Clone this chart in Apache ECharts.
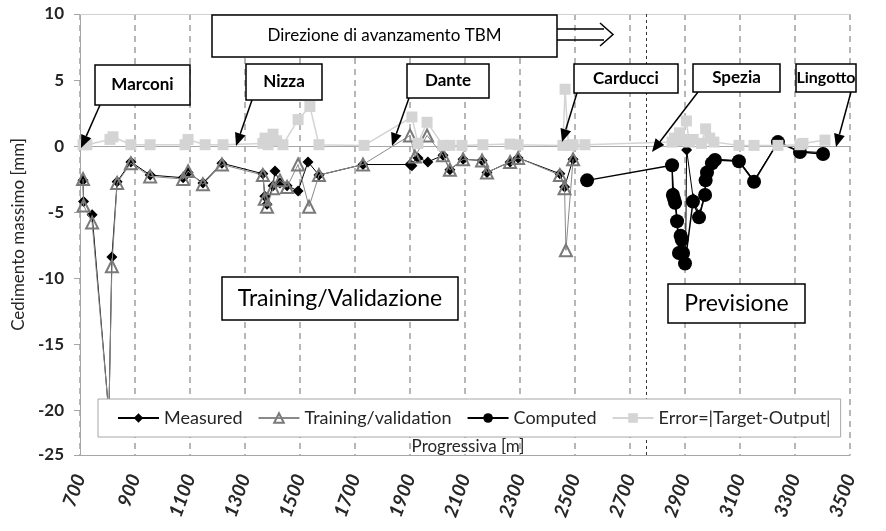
<!DOCTYPE html>
<html><head><meta charset="utf-8">
<script src="https://cdn.jsdelivr.net/npm/echarts@6/dist/echarts.min.js"></script>
<style>html,body{margin:0;padding:0;background:#fff}#c{width:886px;height:531px}</style>
</head><body><div id="c"></div>
<script>
// ---- data ----
const xMin = 700, xMax = 3500, xStep = 200;
const yMin = -25, yMax = 10, yStep = 5;
const yTicks = [-25, -20, -15, -10, -5, 0, 5, 10];

const measured = [[711,-2.6],[713,-4.2],[744,-5.2],[805,-20.3],[816,-8.4],[835,-2.7],[885,-1.2],[955,-2.2],[1075,-2.4],[1093,-2.0],[1147,-2.8],[1216,-1.3],
 [1365,-2.1],[1372,-3.8],[1380,-4.4],[1402,-3.0],[1409,-1.9],[1427,-2.8],[1453,-3.0],[1493,-3.4],[1529,-1.2],[1569,-2.2],[1729,-1.4],
 [1900,-1.4],[1907,-1.5],[1929,-0.9],[1965,-1.2],[2020,-0.7],[2045,-1.8],[2093,-1.0],[2162,-1.1],[2180,-2.0],[2264,-1.2],[2293,-0.9],
 [2445,-2.1],[2462,-3.1],[2493,-1.0],[2700,null],
 [2853,-1.5],[2858,-3.5],[2866,-4.3],[2872,-5.6],[2880,-8.0],[2890,-6.8],[2902,-8.7],[2906,-0.3],[2930,-4.0],[2952,-5.2],[2972,-3.6],[2976,-2.2],[2998,-1.3],[3010,-1.0],[3096,-1.1],[3151,-2.6],[3238,0.3],[3318,-0.4],[3402,-0.5]];

const training = [[711,-2.5],[713,-4.5],[744,-5.8],[805,-20.3],[816,-9.1],[835,-2.8],[885,-1.3],[955,-2.3],[1075,-2.5],[1093,-1.9],[1147,-2.9],[1216,-1.4],
 [1365,-2.2],[1372,-4.0],[1380,-4.6],[1402,-3.2],[1427,-2.6],[1453,-3.1],[1493,-1.4],[1533,-4.6],[1569,-2.2],[1729,-1.4],
 [1900,0.8],[1918,-0.8],[1962,0.8],[2020,-0.7],[2045,-1.8],[2093,-1.0],[2162,-1.1],[2180,-2.0],[2264,-1.2],[2293,-0.9],
 [2445,-2.2],[2462,-3.2],[2467,-7.9],[2493,-1.0]];

const computed = [[2544,-2.6],[2853,-1.45],[2856,-3.7],[2860,-4.0],[2864,-4.3],[2871,-5.7],[2878,-8.1],[2884,-6.8],[2888,-7.1],[2893,-8.1],[2900,-8.9],
 [2929,-4.2],[2951,-5.4],[2973,-3.7],[2975,-2.6],[2980,-2.0],[2998,-1.3],[3009,-1.05],[3096,-1.15],[3151,-2.7],[3238,0.3],[3318,-0.45],[3402,-0.6]];

const errorAbs = [[711,0.1],[725,0.1],[809,0.5],[820,0.7],[885,0.1],[955,0.1],[1082,0.1],[1093,0.5],[1155,0.1],[1220,0.1],
 [1365,0.2],[1373,0.6],[1384,0.1],[1402,0.9],[1415,0.4],[1438,0.1],[1493,2.0],[1536,3.0],[1569,0.1],[1733,0.05],
 [1907,2.2],[1929,0.2],[1962,1.8],[2020,0.05],[2045,0.05],[2089,0.05],[2165,0.1],[2264,0.15],[2293,0.1],
 [2456,0.05],[2464,4.3],[2476,0.05],[2493,0.1],[2536,0.1],
 [2853,0.3],[2862,0.6],[2872,0.4],[2880,1.0],[2890,0.5],[2905,1.9],[2915,0.3],[2930,0.5],[2960,0.2],[2975,1.3],[2990,0.6],[3005,0.3],
 [3096,0.05],[3151,0.05],[3238,0.05],[3318,0.1],[3329,0.2],[3409,0.45]];

const forecastStart = 2758;
const seriesNames = ['Measured','Training/validation','Computed','Error=|Target-Output|'];
const stations = [
  {name:'Marconi', box:[95,65,95,40], from:[100,105], to:[81,148]},
  {name:'Nizza', box:[246,64,76,36], from:[252,100], to:[236,146]},
  {name:'Dante', box:[407,64,82,34], from:[409,98], to:[392,146]},
  {name:'Carducci', box:[574,64,104,29], from:[577,93], to:[562,142]},
  {name:'Spezia', box:[693,64,87,28], from:[698,92], to:[652,152]},
  {name:'Lingotto', box:[796,64,60,28], from:[851,92], to:[836,147]}
];

// ---- chart ----
const FONT = 'Lato, "Liberation Sans", sans-serif';
const chart = echarts.init(document.getElementById('c'), null, {renderer:'canvas'});

function arrow(from, to, L, W) {
  const dx = to[0]-from[0], dy = to[1]-from[1];
  const len = Math.hypot(dx, dy), ux = dx/len, uy = dy/len;
  const bx = to[0]-ux*L, by = to[1]-uy*L;
  return [
    {type:'line', shape:{x1:from[0], y1:from[1], x2:bx, y2:by}, style:{stroke:'#000', lineWidth:1.5}, z:100},
    {type:'polygon', shape:{points:[[to[0],to[1]],[bx-uy*W, by+ux*W],[bx+uy*W, by-ux*W]]}, style:{fill:'#000'}, z:100}
  ];
}
function box(x, y, w, h, text, fs, fw) {
  return [
    {type:'rect', shape:{x:x, y:y, width:w, height:h}, style:{fill:'#fff', stroke:'#000', lineWidth:1.5}, z:100},
    {type:'text', x:x+w/2, y:y+h/2, style:{text:text, fill:'#000', font:(fw||'normal')+' '+fs+'px '+FONT, align:'center', verticalAlign:'middle'}, z:101}
  ];
}
let graphics = [];
stations.forEach(s => {
  graphics = graphics.concat(arrow(s.from, s.to, 13, 5.5));
  graphics = graphics.concat(box(s.box[0], s.box[1], s.box[2], s.box[3], s.name, s.name === 'Lingotto' ? 16 : 17, 'bold'));
});
graphics = graphics.concat(box(212, 15, 345, 42, 'Direzione di avanzamento TBM', 17));
graphics.push({type:'line', shape:{x1:557,y1:29,x2:604,y2:29}, style:{stroke:'#000', lineWidth:1.5}, z:100});
graphics.push({type:'line', shape:{x1:557,y1:40,x2:604,y2:40}, style:{stroke:'#000', lineWidth:1.5}, z:100});
graphics.push({type:'polyline', shape:{points:[[600,23],[613,34.5],[600,46]]}, style:{stroke:'#000', lineWidth:1.5, fill:null}, z:100});
graphics = graphics.concat(box(222, 277, 236, 43, 'Training/Validazione', 23));
graphics = graphics.concat(box(668, 284, 137, 39, 'Previsione', 23));
graphics.push({type:'text', x:468, y:447, style:{text:'Progressiva [m]', fill:'#262626', font:'17px '+FONT, align:'center', verticalAlign:'middle'}, z:50});

const option = {
  animation:false,
  backgroundColor:'#fff',
  textStyle:{fontFamily:FONT},
  grid:{left:80, right:36, top:14, bottom:76, containLabel:false},
  legend:{
    left:98, top:399, padding:[10,10,10,19], itemGap:15, itemWidth:41, itemHeight:12,
    backgroundColor:'#fff', borderColor:'#a6a6a6', borderWidth:1, z:20,
    textStyle:{fontSize:18, color:'#262626', fontFamily:FONT},
    data:seriesNames
  },
  xAxis:[{
    type:'value', min:xMin, max:xMax, interval:xStep, position:'bottom',
    axisLine:{onZero:false, lineStyle:{color:'#a6a6a6'}},
    axisTick:{show:false},
    splitLine:{show:true, lineStyle:{color:'#a0a0a0', type:[6,5], width:1.5}},
    axisLabel:{rotate:70, fontSize:19, fontWeight:'bold', fontStyle:'italic', color:'#262626', margin:20,
      formatter:v => String(v)}
  },{
    type:'value', min:xMin, max:xMax, position:'top',
    axisLine:{show:true, onZero:false, lineStyle:{color:'#d0d0d0'}},
    axisTick:{show:false}, axisLabel:{show:false}, splitLine:{show:false}
  }],
  yAxis:{
    type:'value', min:yMin, max:yMax, interval:yStep,
    breaks:[{start:-22.8, end:-21.2, gap:0}],
    breakArea:{show:false},
    axisLine:{show:true, onZero:false, lineStyle:{color:'#a6a6a6'}},
    axisTick:{show:true, inside:false, length:6, lineStyle:{color:'#a6a6a6'}, customValues:yTicks},
    splitLine:{show:false},
    axisLabel:{fontSize:17, fontWeight:'bold', color:'#262626', margin:16, customValues:yTicks,
      formatter:v => String(v)},
    name:'Cedimento massimo [mm]', nameLocation:'middle', nameGap:50, nameRotate:90,
    nameTextStyle:{fontSize:17, color:'#262626'}
  },
  series:[
    {name:seriesNames[0], type:'line', data:measured, connectNulls:false,
     symbol:'diamond', symbolSize:11, itemStyle:{color:'#000'}, lineStyle:{color:'#000', width:1}, z:2,
     markLine:{silent:true, symbol:'none', label:{show:false}, lineStyle:{color:'#a6a6a6', width:1, type:'solid'}, data:[{yAxis:0}]}},
    {name:seriesNames[1], type:'line', data:training,
     symbol:'triangle', symbolSize:12, itemStyle:{color:'rgba(0,0,0,0)', borderColor:'#7a7a7a', borderWidth:2}, lineStyle:{color:'#8a8a8a', width:1}, z:3},
    {name:seriesNames[2], type:'line', data:computed,
     symbol:'circle', symbolSize:14, itemStyle:{color:'#000'}, lineStyle:{color:'#000', width:1.5}, z:4,
     markLine:{silent:true, symbol:'none', label:{show:false}, lineStyle:{color:'#333', width:1, type:[3,3]}, data:[{xAxis:forecastStart}]}},
    {name:seriesNames[3], type:'line', data:errorAbs,
     symbol:'rect', symbolSize:11, itemStyle:{color:'#d4d4d4'}, lineStyle:{color:'#d4d4d4', width:1.5}, z:5}
  ],
  graphic:graphics
};
chart.setOption(option);
</script>
</body></html>
